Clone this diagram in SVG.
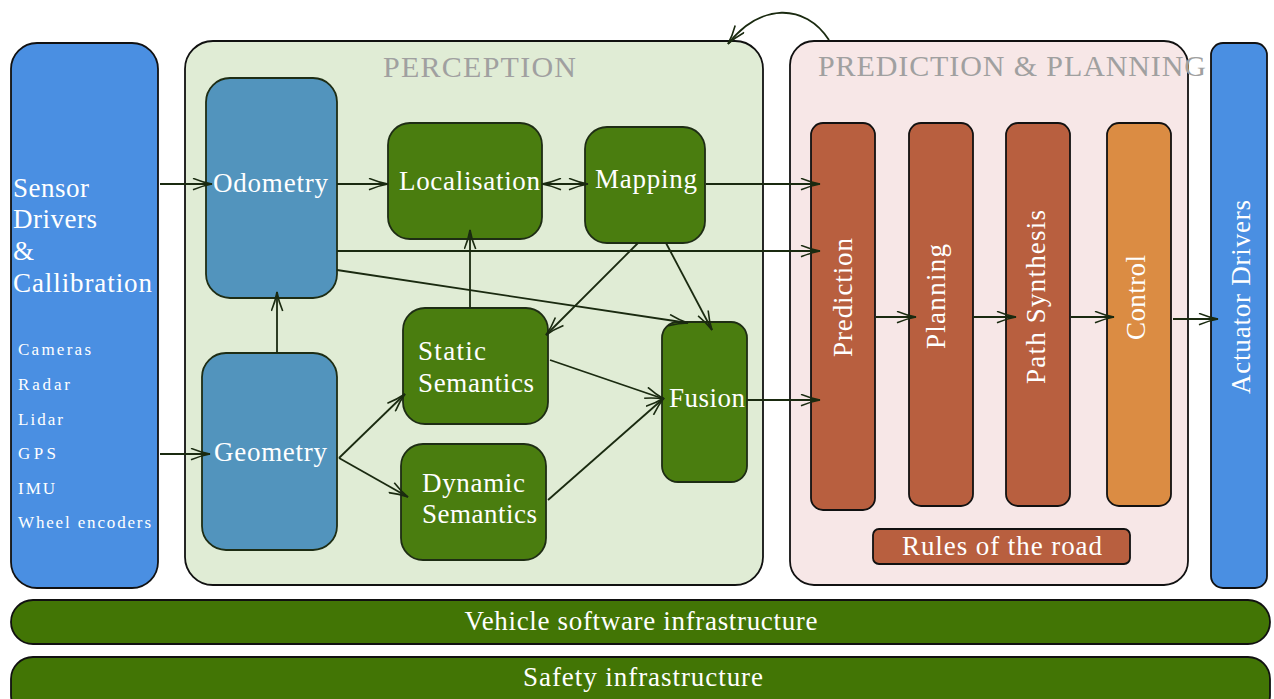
<svg xmlns="http://www.w3.org/2000/svg" width="1274" height="699" viewBox="0 0 1274 699">
<defs>
<marker id="arr" viewBox="0 0 21 13" refX="20" refY="6.5" markerWidth="21" markerHeight="13" markerUnits="userSpaceOnUse" orient="auto-start-reverse">
<path d="M1,0.8 Q11,5 20,6.5 Q11,8 1,12.2" fill="none" stroke="#1a2a10" stroke-width="1.6"/>
</marker>
<style>
.t{font-family:"Liberation Serif","Times New Roman",serif;fill:#fff;font-size:27px}
.s{font-family:"Liberation Serif","Times New Roman",serif;fill:#fff;font-size:17px}
.ttl{font-family:"Liberation Serif","Times New Roman",serif;fill:#a0a0a0;font-size:30px}
.mid{text-anchor:middle}
.outer{stroke:#111;stroke-width:1.8}
.node{stroke:#1e2d14;stroke-width:1.8}
.green{fill:#4a7d0f}
.odo{fill:#5294bd}
.brown{fill:#b85f3f}
.blue{fill:#4a8fe2}
.c{fill:none;stroke:#1a2a10;stroke-width:1.8;marker-end:url(#arr)}
</style>
</defs>

<g id="sensors">
<rect x="11" y="43" width="147" height="545" rx="26" class="blue outer"/>
<text class="t" x="13" y="197" textLength="76">Sensor</text>
<text class="t" x="13" y="228" textLength="84">Drivers</text>
<text class="t" x="13" y="260">&amp;</text>
<text class="t" x="13" y="292" textLength="139">Callibration</text>
<text class="s" x="18" y="355" textLength="73">Cameras</text>
<text class="s" x="18" y="390" textLength="52">Radar</text>
<text class="s" x="18" y="425" textLength="45">Lidar</text>
<text class="s" x="18" y="459" textLength="38">GPS</text>
<text class="s" x="18" y="494" textLength="37">IMU</text>
<text class="s" x="18" y="528" textLength="133">Wheel encoders</text>
</g>

<g id="perception">
<rect x="185" y="41" width="578" height="544" rx="28" fill="#e0ecd5" class="outer"/>
<text class="ttl" x="383" y="77" textLength="193">PERCEPTION</text>
</g>

<g id="prediction-planning">
<rect x="790" y="41" width="398" height="544" rx="24" fill="#f7e7e7" class="outer"/>
<text class="ttl" x="818" y="76" textLength="388">PREDICTION &amp; PLANNING</text>
</g>

<g id="odometry">
<rect x="206" y="78" width="131" height="220" rx="24" class="odo node"/>
<text class="t" x="213" y="192" textLength="115">Odometry</text>
</g>
<g id="geometry">
<rect x="202" y="353" width="135" height="197" rx="24" class="odo node"/>
<text class="t" x="214" y="461" textLength="113">Geometry</text>
</g>
<g id="localisation">
<rect x="388" y="123" width="154" height="116" rx="22" class="green node"/>
<text class="t" x="399" y="190" textLength="141">Localisation</text>
</g>
<g id="mapping">
<rect x="585" y="127" width="120" height="116" rx="22" class="green node"/>
<text class="t" x="595" y="188" textLength="102">Mapping</text>
</g>
<g id="static-semantics">
<rect x="403" y="308" width="145" height="116" rx="22" class="green node"/>
<text class="t" x="418" y="360" textLength="68">Static</text>
<text class="t" x="418" y="392" textLength="116">Semantics</text>
</g>
<g id="dynamic-semantics">
<rect x="401" y="444" width="145" height="116" rx="22" class="green node"/>
<text class="t" x="422" y="492" textLength="103">Dynamic</text>
<text class="t" x="422" y="523" textLength="115">Semantics</text>
</g>
<g id="fusion">
<rect x="662" y="322" width="85" height="160" rx="16" class="green node"/>
<text class="t" x="669" y="407" textLength="76">Fusion</text>
</g>

<g id="prediction">
<rect x="811" y="123" width="64" height="387" rx="12" class="brown outer"/>
<text class="t mid" transform="translate(852,297.5) rotate(-90)" textLength="119">Prediction</text>
</g>
<g id="planning">
<rect x="909" y="123" width="64" height="383" rx="12" class="brown outer"/>
<text class="t mid" transform="translate(945,296.5) rotate(-90)" textLength="105">Planning</text>
</g>
<g id="path-synthesis">
<rect x="1006" y="123" width="64" height="383" rx="12" class="brown outer"/>
<text class="t mid" transform="translate(1045,297) rotate(-90)" textLength="174">Path Synthesis</text>
</g>
<g id="control">
<rect x="1107" y="123" width="64" height="383" rx="12" fill="#db8c43" class="outer"/>
<text class="t mid" transform="translate(1145,297.5) rotate(-90)" textLength="85">Control</text>
</g>
<g id="rules">
<rect x="873" y="529" width="257" height="35" rx="6" class="brown outer"/>
<text class="t mid" x="1002" y="555" textLength="200">Rules of the road</text>
</g>

<g id="actuator-drivers">
<rect x="1211" y="43" width="56" height="545" rx="12" class="blue outer"/>
<text class="t mid" transform="translate(1250,297) rotate(-90)" textLength="194">Actuator Drivers</text>
</g>

<g id="vehicle-software">
<rect x="11" y="600" width="1259" height="44" rx="22" fill="#427505" class="outer"/>
<text class="t mid" x="641" y="630" textLength="353">Vehicle software infrastructure</text>
</g>
<g id="safety">
<rect x="11" y="657" width="1259" height="60" rx="22" fill="#427505" class="outer"/>
<text class="t mid" x="643" y="686" textLength="240">Safety infrastructure</text>
</g>

<g id="connectors">
<path class="c" d="M160,184 L212,184"/>
<path class="c" d="M160,454 L210,454"/>
<path class="c" d="M337,184 L388,184"/>
<path class="c" d="M542,184 L588,184" style="marker-start:url(#arr)"/>
<path class="c" d="M706,184 L820,184"/>
<path class="c" d="M337,251 L820,251"/>
<path class="c" d="M337,270 L688,323"/>
<path class="c" d="M277,353 L277,292"/>
<path class="c" d="M470,308 L470,230"/>
<path class="c" d="M638,243 L546,335"/>
<path class="c" d="M666,243 L712,330"/>
<path class="c" d="M339,458 L405,394"/>
<path class="c" d="M339,458 L408,497"/>
<path class="c" d="M550,360 L664,399"/>
<path class="c" d="M548,500 L664,398"/>
<path class="c" d="M747,400 L820,400"/>
<path class="c" d="M876,317 L916,317"/>
<path class="c" d="M973,317 L1016,317"/>
<path class="c" d="M1071,317 L1114,317"/>
<path class="c" d="M1173,319 L1218,319"/>
<path class="c" d="M829,40 C805,3 760,3 728,44"/>
</g>
</svg>
